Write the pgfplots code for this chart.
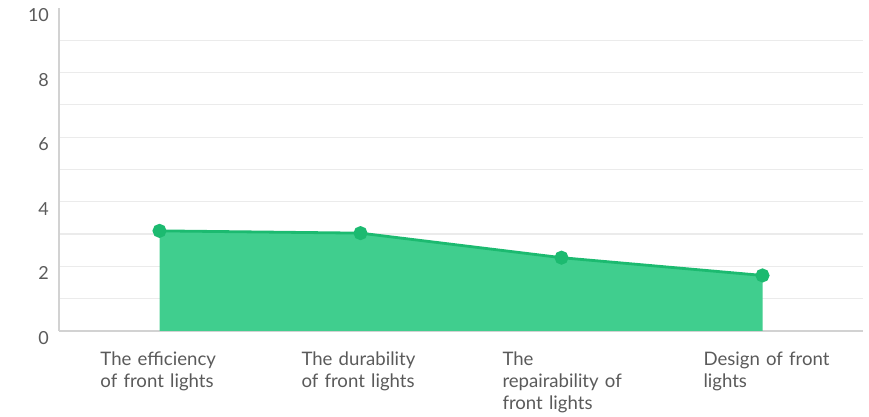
\documentclass[border=0pt]{standalone}
\usepackage{pgfplots}
\pgfplotsset{compat=1.18}
\usepackage{fontspec}
\setmainfont{Lato}
\definecolor{fillgreen}{HTML}{40CE8E}
\definecolor{linegreen}{HTML}{1CBA70}
\definecolor{gridgray}{HTML}{EBEBEB}
\definecolor{axisgray}{HTML}{D2D2D2}
\definecolor{labelgray}{HTML}{5A5A5A}
\begin{document}
\begin{tikzpicture}
\begin{axis}[
  scale only axis,
  width=402pt, height=161.5pt,
  xmin=-0.5, xmax=3.5,
  ymin=0, ymax=10,
  axis lines=left,
  axis line style={draw=axisgray, line width=0.8pt, -},
  xtick={0,1,2,3},
  xticklabels={{The efficiency\\of front lights},{The durability\\of front lights},{The\\repairability of\\front lights},{Design of front\\lights}},
  xticklabel style={align=left, text width=64pt, anchor=north, yshift=-7pt, xshift=2.5pt, font=\fontsize{9.3}{11}\selectfont, text=labelgray},
  ytick={0,2,...,10},
  minor ytick={1,2,...,9},
  yminorgrids,
  minor grid style={draw=gridgray, line width=0.6pt},
  major tick length=0pt, minor tick length=0pt,
  yticklabel style={font=\fontsize{9}{10}\selectfont, text=labelgray, yshift=-3.5pt, xshift=-1.5pt},
  /pgf/number format/assume math mode=true,
  clip=false,
]
\addplot[fill=fillgreen, draw=none] coordinates {(0,3.10) (1,3.03) (2,2.27) (3,1.72)} \closedcycle;
\addplot[linegreen, line width=1.4pt, mark=*, mark size=2.8pt, mark options={fill=linegreen, draw=linegreen}] coordinates {(0,3.10) (1,3.03) (2,2.27) (3,1.72)};
\end{axis}
\pgfresetboundingbox
\path[use as bounding box] ([xshift=-29.5pt,yshift=-42.5pt]current axis.south west) rectangle ([xshift=3pt,yshift=4pt]current axis.north east);
\end{tikzpicture}
\end{document}
